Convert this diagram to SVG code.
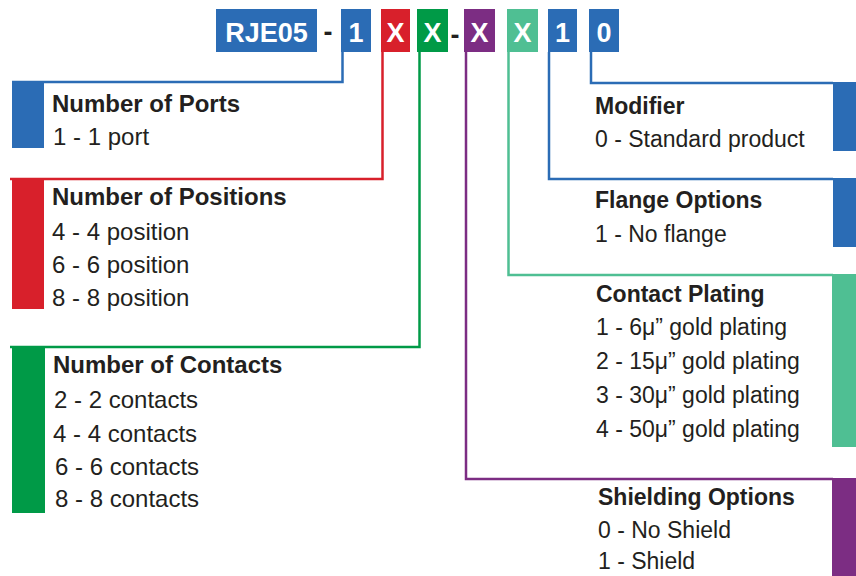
<svg xmlns="http://www.w3.org/2000/svg" width="856" height="576" viewBox="0 0 856 576">
<style>
text{font-family:"Liberation Sans",Arial,Helvetica,sans-serif;fill:#231f20}
.code{font-weight:bold;font-size:27px;fill:#ffffff;text-anchor:middle}
.dash{font-weight:bold;font-size:27px;fill:#231f20;text-anchor:middle}
.h{font-weight:bold}
.l24{font-size:24px}
.r23{font-size:23px}
.blue{fill:#2b6cb5}
.red{fill:#d8202b}
.green{fill:#009a47}
.purple{fill:#7c2d83}
.teal{fill:#4fbf93}
.conn{fill:none;stroke-width:2.5}
</style>
<rect width="856" height="576" fill="#ffffff"/>

<g id="code">
  <g id="code-rje05"><rect class="blue" x="216" y="9" width="101" height="43"/><text class="code" x="266.5" y="42">RJE05</text></g>
  <text class="dash" x="328" y="41">-</text>
  <g id="code-ports"><rect class="blue" x="341" y="9" width="30" height="43"/><text class="code" x="356" y="42">1</text></g>
  <g id="code-positions"><rect class="red" x="381" y="9" width="29" height="43"/><text class="code" x="395.5" y="42">X</text></g>
  <g id="code-contacts"><rect class="green" x="417" y="9" width="31" height="43"/><text class="code" x="432.5" y="42">X</text></g>
  <text class="dash" x="455" y="44">-</text>
  <g id="code-shielding"><rect class="purple" x="464" y="9" width="31" height="43"/><text class="code" x="479.5" y="42">X</text></g>
  <g id="code-plating"><rect class="teal" x="507" y="9" width="31" height="43"/><text class="code" x="522.5" y="42">X</text></g>
  <g id="code-flange"><rect class="blue" x="548" y="9" width="29" height="43"/><text class="code" x="562.5" y="42">1</text></g>
  <g id="code-modifier"><rect class="blue" x="589" y="9" width="30" height="43"/><text class="code" x="604" y="42">0</text></g>
</g>

<g id="connectors">
  <polyline class="conn" stroke="#2b6cb5" points="342.5,52 342.5,82 12,82"/>
  <polyline class="conn" stroke="#d8202b" points="382.5,52 382.5,179 10,179"/>
  <polyline class="conn" stroke="#009a47" points="419.5,52 419.5,347 10,347"/>
  <polyline class="conn" stroke="#7c2d83" points="466,52 466,479 833,479"/>
  <polyline class="conn" stroke="#4fbf93" points="508.5,52 508.5,275 833,275"/>
  <polyline class="conn" stroke="#2b6cb5" points="549,52 549,179 833,179"/>
  <polyline class="conn" stroke="#2b6cb5" points="591,52 591,83 833,83"/>
</g>

<g id="ports">
  <rect class="blue" x="12" y="81" width="32" height="67"/>
  <text class="h l24" x="52" y="112">Number of Ports</text>
  <text class="l24" x="53" y="145">1 - 1 port</text>
</g>

<g id="positions">
  <rect class="red" x="12" y="178" width="32" height="131"/>
  <text class="h l24" x="52" y="205">Number of Positions</text>
  <text class="l24" x="52" y="240">4 - 4 position</text>
  <text class="l24" x="52" y="273">6 - 6 position</text>
  <text class="l24" x="52" y="306">8 - 8 position</text>
</g>

<g id="contacts">
  <rect class="green" x="12" y="346" width="33" height="167"/>
  <text class="h l24" x="53" y="373">Number of Contacts</text>
  <text class="l24" x="54" y="408">2 - 2 contacts</text>
  <text class="l24" x="53" y="442">4 - 4 contacts</text>
  <text class="l24" x="55" y="475">6 - 6 contacts</text>
  <text class="l24" x="55" y="507">8 - 8 contacts</text>
</g>

<g id="modifier">
  <rect class="blue" x="833" y="82" width="23" height="69"/>
  <text class="h r23" x="595" y="114">Modifier</text>
  <text class="r23" x="595" y="147">0 - Standard product</text>
</g>

<g id="flange">
  <rect class="blue" x="833" y="178" width="23" height="69"/>
  <text class="h r23" x="595" y="208">Flange Options</text>
  <text class="r23" x="595" y="242">1 - No flange</text>
</g>

<g id="plating">
  <rect class="teal" x="832" y="274" width="24" height="173"/>
  <text class="h r23" x="596" y="302">Contact Plating</text>
  <text class="r23" x="596" y="335">1 - 6μ” gold plating</text>
  <text class="r23" x="596" y="369">2 - 15μ” gold plating</text>
  <text class="r23" x="596" y="403">3 - 30μ” gold plating</text>
  <text class="r23" x="596" y="437">4 - 50μ” gold plating</text>
</g>

<g id="shielding">
  <rect class="purple" x="832" y="478" width="24" height="98"/>
  <text class="h r23" x="598" y="505">Shielding Options</text>
  <text class="r23" x="598" y="538">0 - No Shield</text>
  <text class="r23" x="598" y="569">1 - Shield</text>
</g>
</svg>
